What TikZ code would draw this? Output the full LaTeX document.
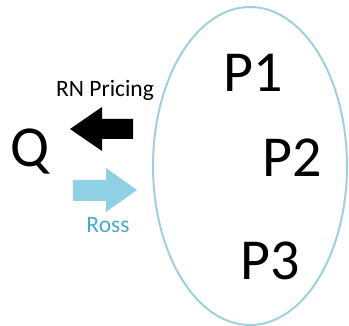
\documentclass[tikz,border=0pt]{standalone}
\usepackage{fontspec}
\setmainfont{Carlito}
\definecolor{rossblue}{HTML}{8FD0E4}
\definecolor{rosstext}{HTML}{4AA8C8}
\definecolor{setblue}{HTML}{9FD0DE}
\tikzset{
  big/.style={font=\fontsize{58}{62}\selectfont, inner sep=0pt, anchor=base},
  small/.style={font=\fontsize{23.5}{28}\selectfont, inner sep=0pt, anchor=base}
}
\begin{document}
\begin{tikzpicture}[x=1pt, y=-1pt]
	%%%%% frame %%%%%
	\useasboundingbox (0, 0) rectangle (349, 326);
	
	%%%%% the set of measures %%%%%
	\draw[line width=2pt, color=setblue] (250, 166) ellipse (97 and 159);
	\node[big] (p1) at (253, 92) {P1};
	\node[big] (p2) at (292, 177) {P2};
	\node[big] (p3) at (270, 280) {P3};
	
	%%%%% Q %%%%%
	\node[big] (q) at (30, 167) {Q};
	
	%%%%% arrows %%%%%
	\fill[black] (70, 129) -- (102, 107) -- (102, 119) -- (133, 119) -- (133, 139) -- (102, 139) -- (102, 151) -- cycle;
	\node[small] (rn) at (105, 97) {RN Pricing};
	
	\fill[rossblue] (137, 190) -- (106, 168) -- (106, 180) -- (73, 180) -- (73, 201) -- (106, 201) -- (106, 212) -- cycle;
	\node[small, color=rosstext] (ross) at (108, 233) {Ross};
\end{tikzpicture}
\end{document}
